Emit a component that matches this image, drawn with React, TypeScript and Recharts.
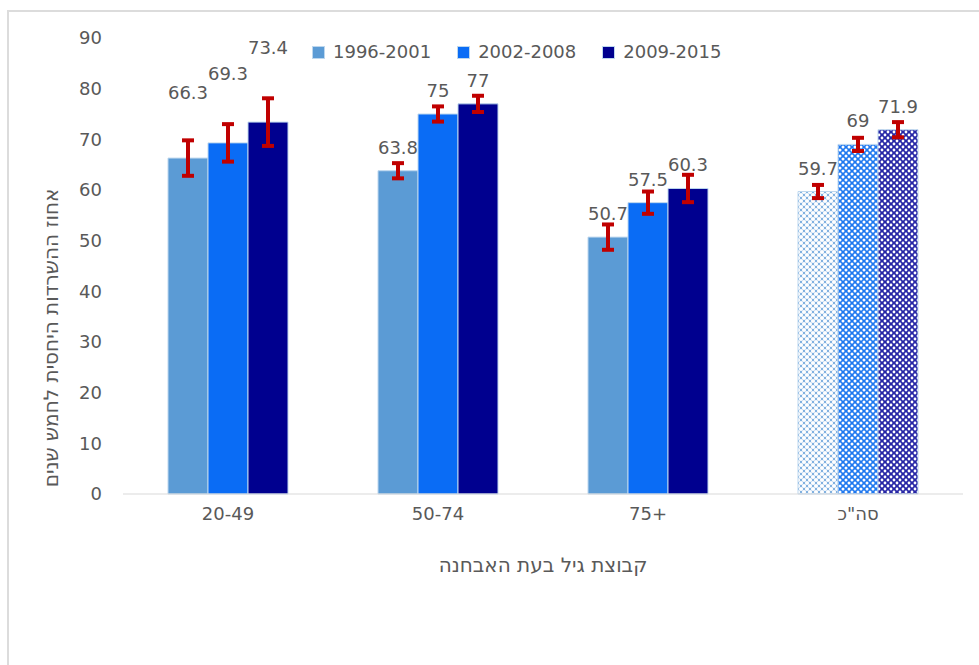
import React from "react";
import { BarChart, Bar, XAxis, YAxis, Cell, ErrorBar, LabelList } from "recharts";

const categories = ["20-49", "50-74", "75+", 'סה"כ'];
const series1996 = [66.3, 63.8, 50.7, 59.7];
const series2002 = [69.3, 75, 57.5, 69];
const series2009 = [73.4, 77, 60.3, 71.9];
const err1996 = [3.5, 1.5, 2.5, 1.3];
const err2002 = [3.7, 1.5, 2.2, 1.3];
const err2009 = [4.7, 1.6, 2.7, 1.5];
const yTicks = [0, 10, 20, 30, 40, 50, 60, 70, 80, 90];
const seriesNames = ["1996-2001", "2002-2008", "2009-2015"];

const data = categories.map((c, i) => ({
  cat: c,
  s1: series1996[i],
  s2: series2002[i],
  s3: series2009[i],
  e1: err1996[i],
  e2: err2002[i],
  e3: err2009[i],
}));

const COLORS = ["#5B9BD5", "#0A6CF5", "#00008F"];
const FONT = "DejaVu Sans";
const TEXT = "#595959";
// extra lift of the first group's labels (style only)
const FIRST_LIFT = [42, 46, 51];

const makeLabel = (seriesIdx: number) => (props: any) => {
  const vb = props.viewBox || {};
  const x = props.x ?? vb.x;
  const y = props.y ?? vb.y;
  const w = props.width ?? vb.width;
  const lift = props.index === 0 ? FIRST_LIFT[seriesIdx] : 0;
  return (
    <text
      x={x + w / 2}
      y={y - 17 - lift}
      textAnchor="middle"
      fontFamily={FONT}
      fontSize={18}
      fill={TEXT}
    >
      {props.value}
    </text>
  );
};

const CatTick = (props: any) => {
  const { x, y, payload } = props;
  return (
    <text x={x} y={y + 20} textAnchor="middle" fontFamily={FONT} fontSize={18} fill={TEXT}>
      {payload.value}
    </text>
  );
};

const Pattern = ({ id, color, r }: { id: string; color: string; r: number }) => (
  <pattern id={id} width={6} height={6} patternUnits="userSpaceOnUse">
    <rect width={6} height={6} fill={color} />
    <circle cx={0} cy={0} r={r} fill="#fff" />
    <circle cx={6} cy={0} r={r} fill="#fff" />
    <circle cx={0} cy={6} r={r} fill="#fff" />
    <circle cx={6} cy={6} r={r} fill="#fff" />
    <circle cx={3} cy={3} r={r} fill="#fff" />
  </pattern>
);

export default function App() {
  const keys = ["s1", "s2", "s3"];
  const errs = ["e1", "e2", "e3"];
  return (
    <div style={{ position: "absolute", top: 0, left: 0, width: 979, height: 665, background: "#fff", overflow: "hidden" }}>
      <div
        style={{
          position: "absolute",
          left: 7,
          top: 10,
          width: 990,
          height: 680,
          borderLeft: "2px solid #dcdcdc",
          borderTop: "2px solid #dcdcdc",
        }}
      />
      <div style={{ position: "absolute", left: 0, top: 0 }}>
        <BarChart
          width={979}
          height={665}
          data={data}
          margin={{ top: 38, right: 16, left: 63, bottom: 141 }}
          barCategoryGap={44}
          barGap={0}
        >
          <defs>
            <Pattern id="pat1" color="#7FB0E0" r={2.1} />
            <Pattern id="pat2" color="#1E78F0" r={1.5} />
            <Pattern id="pat3" color="#2626A6" r={1.4} />
          </defs>
          <XAxis
            dataKey="cat"
            axisLine={{ stroke: "#d9d9d9", strokeWidth: 1 }}
            tickLine={false}
            tickMargin={0}
            tick={<CatTick />}
            interval={0}
            label={{
              content: () => (
                <text x={543} y={572} textAnchor="middle" fontFamily={FONT} fontSize={20} fill={TEXT}>
                  קבוצת גיל בעת האבחנה
                </text>
              ),
            }}
          />
          <YAxis
            domain={[0, 90]}
            ticks={yTicks}
            axisLine={false}
            tickLine={false}
            width={60}
            tickMargin={15}
            tick={{ fontFamily: FONT, fontSize: 18, fill: TEXT }}
            label={{
              content: () => (
                <text
                  x={51}
                  y={338}
                  transform="rotate(-90 51 338)"
                  textAnchor="middle"
                  dominantBaseline="central"
                  fontFamily={FONT}
                  fontSize={20}
                  fill={TEXT}
                >
                  אחוז ההשרדות היחסית לחמש שנים
                </text>
              ),
            }}
          />
          {keys.map((k, si) => (
            <Bar
              key={k}
              dataKey={k}
              name={seriesNames[si]}
              barSize={40}
              fill={COLORS[si]}
              stroke="#BDD7EE"
              strokeWidth={1}
              isAnimationActive={false}
            >
              {data.map((d, i) => (
                <Cell key={i} fill={i === 3 ? `url(#pat${si + 1})` : COLORS[si]} />
              ))}
              <ErrorBar dataKey={errs[si]} width={6} strokeWidth={4} stroke="#C00000" direction="y" />
              <LabelList dataKey={k} content={makeLabel(si)} />
            </Bar>
          ))}
        </BarChart>
      </div>
      <div
        style={{
          position: "absolute",
          left: 312,
          top: 42,
          display: "flex",
          gap: 26,
          fontFamily: FONT,
          fontSize: 18,
          color: TEXT,
          lineHeight: "20px",
        }}
      >
        {seriesNames.map((n, i) => (
          <div key={n} style={{ display: "flex", alignItems: "center", gap: 8 }}>
            <span
              style={{
                display: "inline-block",
                width: 11,
                height: 11,
                background: COLORS[i],
                border: "1px solid #BDD7EE",
              }}
            />
            <span>{n}</span>
          </div>
        ))}
      </div>
    </div>
  );
}
